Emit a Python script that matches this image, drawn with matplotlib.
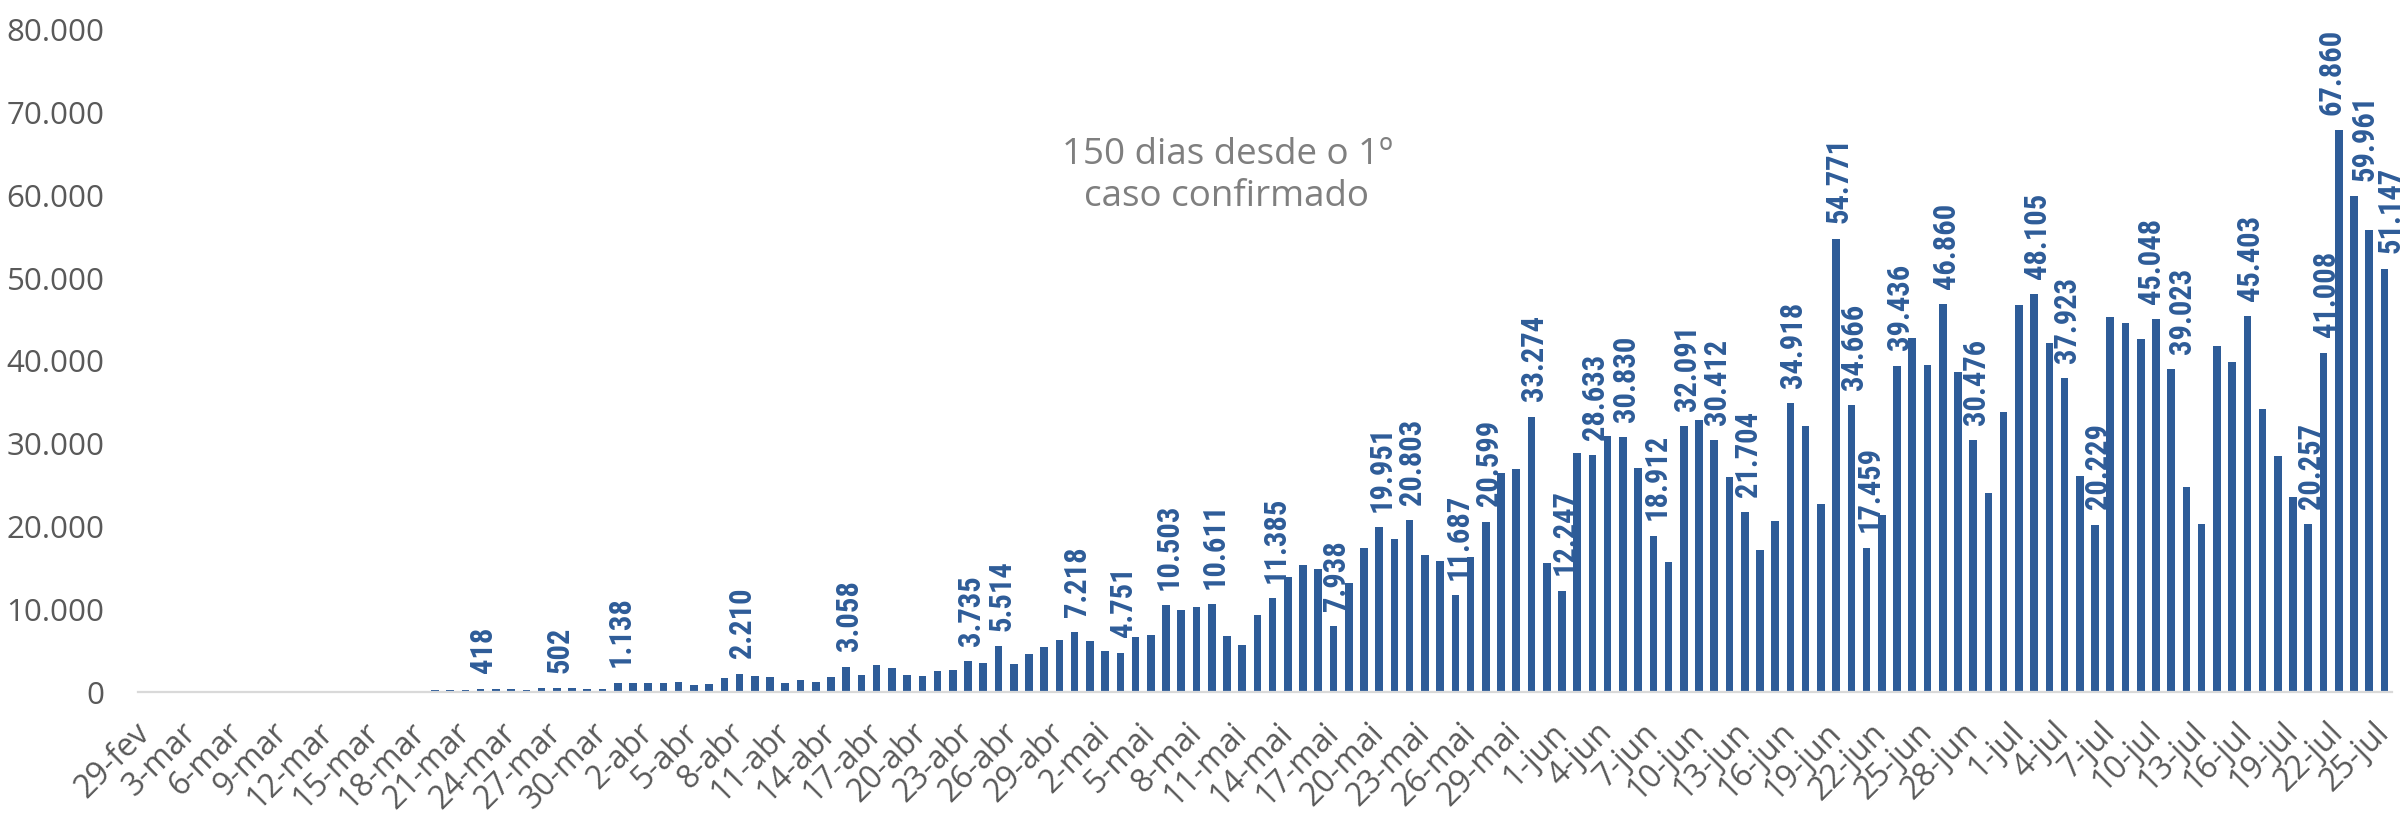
import matplotlib
matplotlib.use("Agg")
import numpy as np
import pandas as pd
from matplotlib import pyplot as plt

# casos novos por dia, 29-fev a 25-jul de 2020
inicio = "2020-02-29"
casos_fev = [1]
casos_mar = [0, 0, 0, 2, 4, 5, 6, 0, 6, 9, 18, 25, 21, 23, 79, 34, 57, 137, 193,
             283, 224, 418, 345, 310, 232, 482, 502, 487, 352, 323, 1138]
casos_abr = [1119, 1074, 1146, 1222, 852, 926, 1661, 2210, 1930, 1781, 1089,
             1442, 1261, 1832, 3058, 2105, 3257, 2917, 2055, 1927, 2498, 2678,
             3735, 3503, 5514, 3379, 4613, 5385, 6276, 7218]
casos_mai = [6209, 4970, 4751, 6633, 6935, 10503, 9888, 10222, 10611, 6760, 5632,
             9258, 11385, 13944, 15305, 14919, 7938, 13140, 17408, 19951, 18508,
             20803, 16508, 15813, 11687, 16324, 20599, 26417, 26928, 33274, 15600]
casos_jun = [12247, 28936, 28633, 30925, 30830, 27075, 18912, 15654, 32091, 32913,
             30412, 25982, 21704, 17110, 20647, 34918, 32188, 22765, 54771, 34666,
             17459, 21432, 39436, 42725, 39483, 46860, 38693, 30476, 24052, 33846]
casos_jul = [46712, 48105, 42223, 37923, 26051, 20229, 45305, 44571, 42619, 45048,
             39023, 24831, 20286, 41857, 39924, 45403, 34177, 28532, 23529, 20257,
             41008, 67860, 59961, 55891, 51147]

# dias com rotulo de valor
dias_rotulo = ["22-mar", "27-mar", "31-mar", "8-abr", "15-abr", "23-abr", "25-abr",
               "30-abr", "3-mai", "6-mai", "9-mai", "13-mai", "17-mai", "20-mai",
               "22-mai", "25-mai", "27-mai", "30-mai", "1-jun", "3-jun", "5-jun",
               "7-jun", "9-jun", "11-jun", "13-jun", "16-jun", "19-jun", "20-jun",
               "21-jun", "23-jun", "26-jun", "28-jun", "2-jul", "4-jul", "6-jul",
               "10-jul", "11-jul", "16-jul", "20-jul", "21-jul", "22-jul", "23-jul",
               "25-jul"]

meses = {2: "fev", 3: "mar", 4: "abr", 5: "mai", 6: "jun", 7: "jul"}
titulo = "150 dias desde o 1º\ncaso confirmado"

casos = casos_fev + casos_mar + casos_abr + casos_mai + casos_jun + casos_jul
datas = pd.date_range(inicio, periods=len(casos), freq="D")
rotulos = [f"{d.day}-{meses[d.month]}" for d in datas]

# deslocamento lateral (pt) dos rotulos que se encostam
desloc = {"10-jul": -3.5, "11-jul": 8, "22-jul": -5.5, "23-jul": 8, "25-jul": 4.5}


def fmt(v):
    return f"{v:,}".replace(",", ".")


azul = "#2e5c98"
cinza = "#595959"
fonte = ["Open Sans", "DejaVu Sans"]

fig = plt.figure(figsize=(24.02, 8.14), dpi=100)
ax = fig.add_axes([138 / 2402, 122 / 814, 2254 / 2402, 662 / 814])

x = np.arange(len(casos))
ax.bar(x, casos, width=0.5, color=azul)

# rotulos de valor, verticais, acima das barras
for i, r in enumerate(rotulos):
    if r in dias_rotulo:
        ax.annotate(fmt(casos[i]), (x[i], casos[i]),
                    xytext=(desloc.get(r, 2), 11),
                    textcoords="offset points", rotation=90, ha="center",
                    va="bottom", color=azul, fontsize=22, fontweight="bold",
                    family=["Roboto Condensed", "Roboto", "DejaVu Sans"])

ax.set_xlim(-0.5, len(casos) - 0.5)
ax.set_ylim(0, 80000)
ax.set_yticks(np.arange(0, 80001, 10000))
ax.set_yticklabels([fmt(v) for v in range(0, 80001, 10000)],
                   fontsize=22.5, color=cinza, family=fonte)
ax.set_xticks(x[::3])
ax.set_xticklabels(rotulos[::3], rotation=45, ha="right", va="center",
                   rotation_mode="anchor", fontsize=23, color=cinza, family=fonte)
ax.tick_params(axis="y", length=0, pad=24)
ax.tick_params(axis="x", length=0, pad=26)

for s in ["top", "right", "left"]:
    ax.spines[s].set_visible(False)
ax.spines["bottom"].set_color("#d9d9d9")
ax.spines["bottom"].set_linewidth(1.6)

fig.text(1227 / 2402, 1 - 176 / 814, titulo, ha="center", va="center",
         fontsize=26.5, color="#7f7f7f", family=fonte, linespacing=1.25)

plt.savefig("out.png", dpi=100)
